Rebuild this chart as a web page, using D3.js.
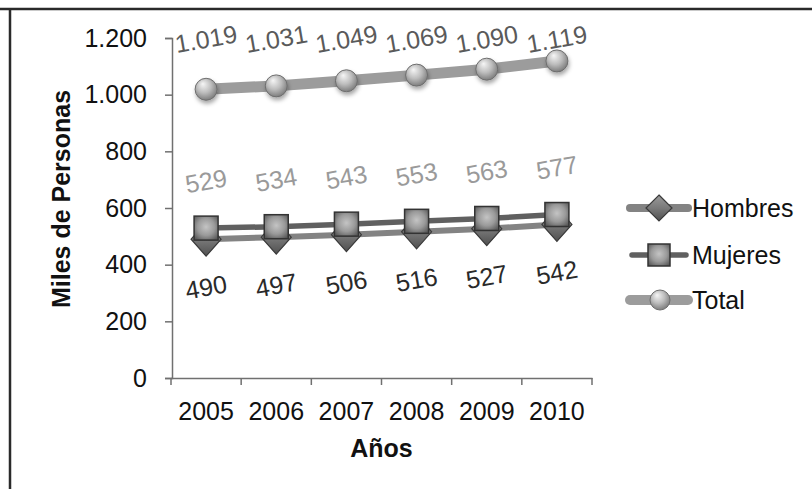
<!DOCTYPE html>
<html>
<head>
<meta charset="utf-8">
<script src="https://cdn.jsdelivr.net/npm/d3@7"></script>
<style>
  body { margin: 0; background: #fff; }
  svg { font-family: "Liberation Sans", Arial, sans-serif; }
</style>
</head>
<body>
<svg id="chart" width="812" height="489"></svg>
<script>
const years = ["2005", "2006", "2007", "2008", "2009", "2010"];
const hombres = [490, 497, 506, 516, 527, 542];
const mujeres = [529, 534, 543, 553, 563, 577];
const total = [1019, 1031, 1049, 1069, 1090, 1119];
const yTicks = [0, 200, 400, 600, 800, 1000, 1200];
const seriesNames = ["Hombres", "Mujeres", "Total"];

const es = d3.formatLocale({ decimal: ",", thousands: ".", grouping: [3], currency: ["", ""] });
const fmt = es.format(",d");

const svg = d3.select("#chart"),
      width = +svg.attr("width"),
      height = +svg.attr("height");

const margin = { top: 38, left: 172, right: 220, bottom: 111 };

const x = d3.scaleBand()
  .domain(years)
  .range([171, 592]);

const y = d3.scaleLinear()
  .domain([0, 1200])
  .range([height - margin.bottom, margin.top]);

// frame (only top and left edges visible in the scan)
svg.append("line")
  .attr("x1", 0).attr("x2", width).attr("y1", 9).attr("y2", 9)
  .attr("stroke", "#2a2a2a").attr("stroke-width", 2.5);
svg.append("line")
  .attr("x1", 10).attr("x2", 10).attr("y1", 9).attr("y2", height)
  .attr("stroke", "#2a2a2a").attr("stroke-width", 2.5);

const defs = svg.append("defs");

const sphere = defs.append("radialGradient")
  .attr("id", "sphere").attr("cx", "45%").attr("cy", "40%").attr("r", "60%")
  .attr("fx", "35%").attr("fy", "25%");
sphere.append("stop").attr("offset", "0%").attr("stop-color", "#f6f6f6");
sphere.append("stop").attr("offset", "55%").attr("stop-color", "#bdbdbd");
sphere.append("stop").attr("offset", "100%").attr("stop-color", "#7d7d7d");

const box = defs.append("radialGradient")
  .attr("id", "box").attr("cx", "50%").attr("cy", "45%").attr("r", "65%");
box.append("stop").attr("offset", "0%").attr("stop-color", "#c4c4c4");
box.append("stop").attr("offset", "55%").attr("stop-color", "#9a9a9a");
box.append("stop").attr("offset", "100%").attr("stop-color", "#5a5a5a");

const diam = defs.append("linearGradient")
  .attr("id", "diam").attr("x1", 0).attr("y1", 0).attr("x2", 0).attr("y2", 1);
diam.append("stop").attr("offset", "0%").attr("stop-color", "#9a9a9a");
diam.append("stop").attr("offset", "50%").attr("stop-color", "#7a7a7a");
diam.append("stop").attr("offset", "100%").attr("stop-color", "#505050");

const shadow = defs.append("filter").attr("id", "shadow")
  .attr("x", "-50%").attr("y", "-50%").attr("width", "200%").attr("height", "200%");
shadow.append("feDropShadow")
  .attr("dx", 1).attr("dy", 3).attr("stdDeviation", 2)
  .attr("flood-color", "#000").attr("flood-opacity", 0.35);

// axes
const yAxis = svg.append("g")
  .attr("transform", `translate(172,0)`)
  .call(d3.axisLeft(y).tickValues(yTicks).tickSize(7).tickPadding(18).tickFormat(fmt));
yAxis.select(".domain").attr("stroke", "#707070").attr("stroke-width", 1.5);
yAxis.selectAll(".tick line").attr("stroke", "#707070").attr("stroke-width", 1.5);
yAxis.selectAll(".tick text")
  .attr("fill", "#111").style("font-size", "25px").style("font-family", "Liberation Sans, Arial");

const xAxis = svg.append("g")
  .attr("transform", `translate(0,${y(0)})`)
  .call(d3.axisBottom(x).tickSize(0).tickPadding(24));
xAxis.select(".domain").attr("stroke", "#707070").attr("stroke-width", 1.5);
xAxis.selectAll(".tick text")
  .attr("fill", "#111").style("font-size", "25px").style("font-family", "Liberation Sans, Arial");

// category boundary ticks
xAxis.selectAll(".bound")
  .data(years.map(d => x(d)).concat([x.range()[1]]))
  .join("line")
    .attr("class", "bound")
    .attr("x1", d => d).attr("x2", d => d)
    .attr("y1", 0).attr("y2", 7)
    .attr("stroke", "#707070").attr("stroke-width", 1.5);

// axis titles
svg.append("text")
  .attr("transform", `translate(70,199) rotate(-90)`)
  .attr("text-anchor", "middle")
  .style("font-size", "25px").style("font-weight", "bold")
  .attr("fill", "#111")
  .text("Miles de Personas");

svg.append("text")
  .attr("x", (x.range()[0] + x.range()[1]) / 2)
  .attr("y", 457)
  .attr("text-anchor", "middle")
  .style("font-size", "25px").style("font-weight", "bold")
  .attr("fill", "#111")
  .text("Años");

const cx = (d, i) => x(years[i]) + x.bandwidth() / 2;
const line = vals => d3.line().x((d, i) => cx(d, i)).y(d => y(d))(vals);

// Hombres
svg.append("path").attr("d", line(hombres))
  .attr("fill", "none").attr("stroke", "#838383").attr("stroke-width", 6);
// Mujeres
svg.append("path").attr("d", line(mujeres))
  .attr("fill", "none").attr("stroke", "#606060").attr("stroke-width", 5.5);

const diamondPath = (w, h) => `M0,${-h}L${w},0L0,${h}L${-w},0Z`;

svg.selectAll(".m-hom")
  .data(hombres)
  .join("path")
    .attr("class", "m-hom")
    .attr("transform", (d, i) => `translate(${cx(d, i)},${y(d)})`)
    .attr("d", diamondPath(15, 17))
    .attr("fill", "url(#diam)").attr("stroke", "#3a3a3a").attr("stroke-width", 1.2);

svg.selectAll(".m-muj")
  .data(mujeres)
  .join("rect")
    .attr("class", "m-muj")
    .attr("x", (d, i) => cx(d, i) - 12).attr("y", d => y(d) - 12)
    .attr("width", 24).attr("height", 24)
    .attr("fill", "url(#box)").attr("stroke", "#333").attr("stroke-width", 1.5);

// Total
svg.append("path").attr("d", line(total))
  .attr("fill", "none").attr("stroke", "#9c9c9c").attr("stroke-width", 11);

svg.selectAll(".m-tot")
  .data(total)
  .join("circle")
    .attr("class", "m-tot")
    .attr("cx", (d, i) => cx(d, i)).attr("cy", d => y(d))
    .attr("r", 11)
    .attr("fill", "url(#sphere)").attr("stroke", "#6e6e6e").attr("stroke-width", 1)
    .attr("filter", "url(#shadow)");

// data labels
function labels(vals, cls, dyOff, color, text) {
  svg.selectAll("." + cls)
    .data(vals)
    .join("text")
      .attr("class", cls)
      .attr("transform", (d, i) => `translate(${cx(d, i)},${dyOff(d)}) rotate(-10)`)
      .attr("text-anchor", "middle")
      .attr("dy", "0.35em")
      .style("font-size", "25px")
      .attr("fill", color)
      .text(text);
}
labels(total, "l-tot", d => y(1200) + 1, "#5a5a5a", d => fmt(d));
labels(mujeres, "l-muj", d => y(d) - 47, "#9a9a9a", d => d);
labels(hombres, "l-hom", d => y(d) + 48, "#2a2a2a", d => d);

// legend
const legendY = [208, 255, 300];
const lg = svg.append("g");
seriesNames.forEach((name, i) => {
  const row = lg.append("g").attr("transform", `translate(630,${legendY[i]})`);
  if (name === "Hombres") {
    row.append("line").attr("x1", 0).attr("x2", 58)
      .attr("stroke", "#838383").attr("stroke-width", 8).attr("stroke-linecap", "round");
    row.append("path").attr("transform", "translate(29,0)").attr("d", diamondPath(13, 13))
      .attr("fill", "url(#diam)").attr("stroke", "#3a3a3a").attr("stroke-width", 1.2);
  } else if (name === "Mujeres") {
    row.append("line").attr("x1", 2).attr("x2", 56)
      .attr("stroke", "#606060").attr("stroke-width", 5.5).attr("stroke-linecap", "round");
    row.append("rect").attr("x", 18).attr("y", -11).attr("width", 22).attr("height", 22)
      .attr("fill", "url(#box)").attr("stroke", "#333").attr("stroke-width", 1.5);
  } else {
    row.append("line").attr("x1", 0).attr("x2", 58)
      .attr("stroke", "#9c9c9c").attr("stroke-width", 10).attr("stroke-linecap", "round");
    row.append("circle").attr("cx", 30).attr("cy", 0).attr("r", 10)
      .attr("fill", "url(#sphere)").attr("stroke", "#6e6e6e").attr("stroke-width", 1);
  }
  row.append("text")
    .attr("x", 62).attr("dy", "0.35em")
    .style("font-size", "25px")
    .attr("fill", "#111")
    .text(name);
});
</script>
</body>
</html>
